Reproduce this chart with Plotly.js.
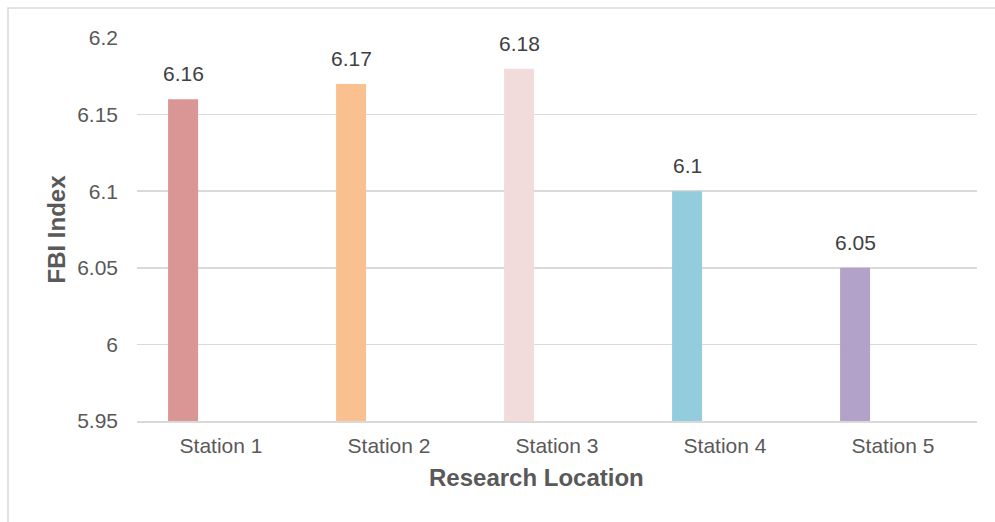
<!DOCTYPE html>
<html>
<head>
<meta charset="utf-8">
<script src="https://cdn.plot.ly/plotly-3.0.1.min.js"></script>
<style>
html, body { margin: 0; padding: 0; background: #ffffff; }
#chart { width: 995px; height: 522px; }
</style>
</head>
<body>
<div id="chart"></div>
<script>
// Data
const stations = ["Station 1", "Station 2", "Station 3", "Station 4", "Station 5"];
const fbiValues = [6.16, 6.17, 6.18, 6.1, 6.05];
const labelTexts = ["6.16", "6.17", "6.18", "6.1", "6.05"];
const barColors = ["#D99694", "#FAC090", "#F2DCDB", "#93CDDD", "#B3A2C7"];
const yTickVals = [5.95, 6, 6.05, 6.1, 6.15, 6.2];
const yTickText = ["5.95", "6", "6.05", "6.1", "6.15", "6.2"];
const xTitle = "Research Location";
const yTitle = "FBI Index";

const FONT = "Liberation Sans, Arial, sans-serif";
const barWidth = 0.1786;
const barOffset = -0.315;
const labelShiftPx = (barOffset + barWidth / 2) * 168;

const trace = {
  type: "bar",
  x: stations,
  y: fbiValues,
  width: barWidth,
  offset: barOffset,
  marker: { color: barColors, line: { width: 0 } },
  hoverinfo: "x+y",
  cliponaxis: false
};

const ml = 137, mr = 18, mt = 38, mb = 101;
const pw = 995 - ml - mr, ph = 522 - mt - mb;

const annotations = stations.map((s, i) => ({
  x: s,
  y: fbiValues[i],
  xref: "x",
  yref: "y",
  text: labelTexts[i],
  showarrow: false,
  xanchor: "center",
  yanchor: "bottom",
  xshift: labelShiftPx,
  yshift: 12,
  font: { family: FONT, size: 21, color: "#404040" }
}));

annotations.push({
  xref: "paper",
  yref: "paper",
  x: (536 - ml) / pw,
  y: (522 - mb - 477) / ph,
  xanchor: "center",
  yanchor: "middle",
  text: "<b>" + xTitle + "</b>",
  showarrow: false,
  font: { family: FONT, size: 24, color: "#595959" }
});

const layout = {
  width: 995,
  height: 522,
  margin: { l: ml, r: mr, t: mt, b: mb, pad: 0 },
  paper_bgcolor: "#ffffff",
  plot_bgcolor: "#ffffff",
  showlegend: false,
  font: { family: FONT, size: 21, color: "#595959" },
  xaxis: {
    type: "category",
    range: [-0.5, 4.5],
    showgrid: false,
    zeroline: false,
    showline: true,
    linecolor: "#d9d9d9",
    linewidth: 1.5,
    ticks: "",
    ticklabelstandoff: 5,
    tickfont: { family: FONT, size: 21, color: "#595959" },
    fixedrange: true
  },
  yaxis: {
    range: [5.95, 6.2],
    tickmode: "array",
    tickvals: yTickVals,
    ticktext: yTickText,
    showgrid: true,
    gridcolor: "#d9d9d9",
    gridwidth: 1.5,
    zeroline: false,
    showline: false,
    ticks: "",
    ticklabelstandoff: 18,
    tickfont: { family: FONT, size: 21, color: "#595959" },
    title: {
      text: "<b>" + yTitle + "</b>",
      font: { family: FONT, size: 24, color: "#595959" },
      standoff: 4
    },
    fixedrange: true
  },
  annotations: annotations,
  shapes: [
    {
      type: "rect",
      xref: "paper",
      yref: "paper",
      x0: (8 - ml) / pw,
      x1: (1010 - ml) / pw,
      y0: (522 - mb - 540) / ph,
      y1: (522 - mb - 8) / ph,
      line: { color: "#d9d9d9", width: 1.5 },
      fillcolor: "rgba(0,0,0,0)",
      layer: "below"
    }
  ]
};

Plotly.newPlot("chart", [trace], layout, { displayModeBar: false, staticPlot: true });
</script>
</body>
</html>
